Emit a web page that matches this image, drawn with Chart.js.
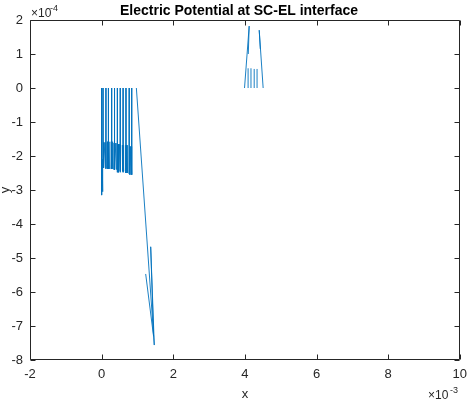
<!DOCTYPE html>
<html>
<head>
<meta charset="utf-8">
<script src="https://cdn.jsdelivr.net/npm/chart.js@4/dist/chart.umd.min.js"></script>
<style>
  html, body { margin: 0; padding: 0; background: #fff; }
  #wrap { width: 474px; height: 406px; }
</style>
</head>
<body>
<div id="wrap"><canvas id="chart" width="474" height="406"></canvas></div>
<script>
// ===== Data (x in units of 1e-3, y in units of 1e-4; null breaks the line) =====
const TITLE = "Electric Potential at SC-EL interface";
const X_TICKS = [-2, 0, 2, 4, 6, 8, 10];
const Y_TICKS = [-8, -7, -6, -5, -4, -3, -2, -1, 0, 1, 2];

// left cluster: thin spikes from 0 down to the band
const spikeX = [0.00, 0.00, 0.015, 0.03, 0.03, null,
                0.04, 0.04, null, 0.12, 0.12, null, 0.19, 0.19, null, 0.28, 0.28, null,
                0.36, 0.36, null, 0.44, 0.44, null, 0.52, 0.52, null, 0.60, 0.60, null,
                0.68, 0.68, null, 0.77, 0.77, null, 0.84, 0.84, null];
const spikeY = [0, -3.15, -2.10, -3.05, -2.10, null,
                0, -2.35, null, 0, -2.38, null, 0, -2.38, null, 0, -2.38, null,
                0, -2.40, null, 0, -2.48, null, 0, -2.45, null, 0, -2.48, null,
                0, -2.50, null, 0, -2.52, null, 0, -2.55, null];

// left cluster: dense bands at the spike bottoms
const bandX = [0.055, 0.055, 0.090, 0.120, 0.120, null,
               0.165, 0.165, 0.190, 0.215, 0.215, null,
               0.270, 0.270, 0.290, 0.310, 0.310, null,
               0.350, 0.350, 0.380, 0.410, 0.410, null,
               0.470, 0.470, 0.495, 0.520, 0.520, null,
               0.575, 0.575, 0.595, 0.615, 0.615, null,
               0.680, 0.680, 0.700, 0.725, 0.725, null,
               0.790, 0.790, 0.815, 0.840, 0.840, null];
const bandY = [-1.60, -2.35, -1.60, -2.35, -1.60, null,
               -1.58, -2.38, -1.58, -2.38, -1.58, null,
               -1.58, -2.38, -1.58, -2.38, -1.58, null,
               -1.62, -2.40, -1.62, -2.40, -1.62, null,
               -1.65, -2.48, -1.65, -2.48, -1.65, null,
               -1.68, -2.45, -1.68, -2.45, -1.68, null,
               -1.68, -2.50, -1.68, -2.50, -1.68, null,
               -1.72, -2.55, -1.72, -2.55, -1.72, null];

// long drop to the minimum
const dropX = [0.97, 1.47, 1.37, 1.45, 1.23, null];
const dropY = [0, -7.56, -4.67, -7.30, -5.47, null];

// positive cluster near x = 4.2e-3
const peakX = [3.99, 4.12, 4.095, null,
               4.09, 4.09, null, 4.17, 4.17, null, 4.26, 4.26, null, 4.34, 4.34, null,
               4.51, 4.40, 4.43, null];
const peakY = [0, 1.82, 1.00, null,
               0, 0.58, null, 0, 0.58, null, 0, 0.56, null, 0, 0.56, null,
               0, 1.70, 1.15, null];

const pathX = [...spikeX, ...bandX, ...dropX, ...peakX];
const pathY = [...spikeY, ...bandY, ...dropY, ...peakY];

// ===== Styles =====
const AXIS_COLOR = '#262626';
const LINE_COLOR = '#0072BD';
const FONT = 'Arial, "Liberation Sans", Helvetica, sans-serif';

// MATLAB-like box, inward ticks, title and exponent labels
const matlabAxes = {
  id: 'matlabAxes',
  afterDraw(chart) {
    const { ctx, chartArea: a, scales: { x, y } } = chart;
    const L = Math.round(a.left) + 0.5, R = Math.round(a.right) - 0.5;
    const T = Math.round(a.top) + 0.5, B = Math.round(a.bottom) - 0.5;
    const tl = 5;
    ctx.save();
    ctx.strokeStyle = AXIS_COLOR;
    ctx.lineWidth = 1;
    ctx.beginPath();
    ctx.rect(L, T, R - L, B - T);
    X_TICKS.forEach(v => {
      const px = Math.round(x.getPixelForValue(v)) + 0.5;
      ctx.moveTo(px, B); ctx.lineTo(px, B - tl);
      ctx.moveTo(px, T); ctx.lineTo(px, T + tl);
    });
    Y_TICKS.forEach(v => {
      const py = Math.round(y.getPixelForValue(v)) + 0.5;
      ctx.moveTo(L, py); ctx.lineTo(L + tl, py);
      ctx.moveTo(R, py); ctx.lineTo(R - tl, py);
    });
    ctx.stroke();

    ctx.fillStyle = '#000';
    ctx.textAlign = 'center';
    ctx.textBaseline = 'middle';
    ctx.font = 'bold 14px ' + FONT;
    ctx.fillText(TITLE, 239, 11);

    ctx.fillStyle = AXIS_COLOR;
    ctx.textAlign = 'left';
    ctx.textBaseline = 'alphabetic';
    ctx.font = '12px ' + FONT;
    ctx.fillText('\u00d710', 31, 17);
    ctx.fillText('\u00d710', 428, 399);
    ctx.font = '9px ' + FONT;
    ctx.fillText('-4', 50, 11);
    ctx.fillText('-3', 450, 393);
    ctx.restore();
  }
};

const points = pathX.map((v, i) => ({ x: v, y: pathY[i] }));

new Chart(document.getElementById('chart'), {
  type: 'scatter',
  data: {
    datasets: [{
      data: points,
      showLine: true,
      spanGaps: false,
      borderColor: LINE_COLOR,
      borderWidth: 0.9,
      pointRadius: 0,
      pointHoverRadius: 0,
      fill: false
    }]
  },
  options: {
    responsive: false,
    animation: false,
    events: [],
    layout: { padding: { top: 20, right: 13, left: 0, bottom: 0 } },
    plugins: { legend: { display: false }, tooltip: { enabled: false }, title: { display: false } },
    scales: {
      x: {
        type: 'linear', min: -2, max: 10,
        afterFit: s => { s.height = 46; },
        afterBuildTicks: s => { s.ticks = X_TICKS.map(v => ({ value: v })); },
        grid: { display: false, drawTicks: false },
        border: { display: false },
        ticks: { color: AXIS_COLOR, padding: 7, maxRotation: 0, font: { family: FONT, size: 13 } },
        title: { display: true, text: 'x', color: AXIS_COLOR, padding: { top: 0, bottom: 4 },
                 font: { family: FONT, size: 13 } }
      },
      y: {
        type: 'linear', min: -8, max: 2,
        afterFit: s => { s.width = 30; },
        afterBuildTicks: s => { s.ticks = Y_TICKS.map(v => ({ value: v })); },
        grid: { display: false, drawTicks: false },
        border: { display: false },
        ticks: { color: AXIS_COLOR, padding: 7, font: { family: FONT, size: 13 } },
        title: { display: true, text: 'y', color: AXIS_COLOR, padding: { top: -1, bottom: 0 },
                 font: { family: FONT, size: 13, lineHeight: 1 } }
      }
    }
  },
  plugins: [matlabAxes]
});
</script>
</body>
</html>
